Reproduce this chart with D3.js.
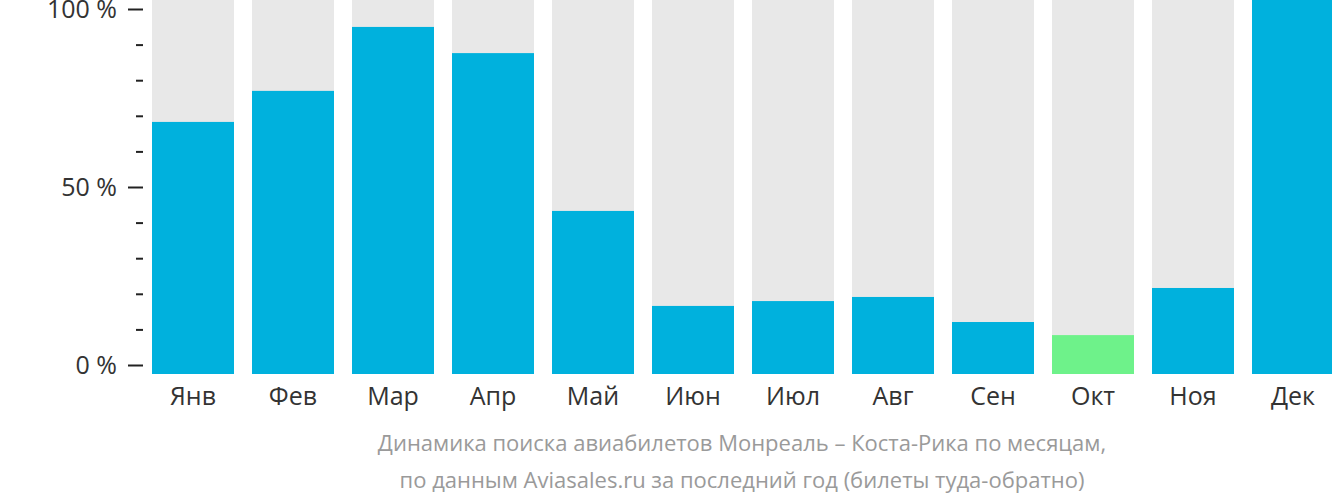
<!DOCTYPE html>
<html>
<head>
<meta charset="utf-8">
<script src="https://cdn.jsdelivr.net/npm/d3@7"></script>
<style>
  body { margin: 0; background: #fff; }
  svg { display: block; font-family: "Open Sans", sans-serif; }
</style>
</head>
<body>
<script>
// months and search share (%)
var months = ["Янв", "Фев", "Мар", "Апр", "Май", "Июн", "Июл", "Авг", "Сен", "Окт", "Ноя", "Дек"];
var values = [67.4, 75.7, 92.8, 85.8, 43.6, 18.2, 19.5, 20.6, 13.9, 10.4, 23.0, 100];
var lowMonth = "Окт";
var majorTicks = [0, 50, 100];
var minorTicks = [10, 20, 30, 40, 60, 70, 80, 90];
var subtitle = [
  "Динамика поиска авиабилетов Монреаль – Коста-Рика по месяцам,",
  "по данным Aviasales.ru за последний год (билеты туда-обратно)"
];

var W = 1332, H = 502;

var svg = d3.select("body").append("svg")
  .attr("width", W)
  .attr("height", H);

var x = d3.scaleBand()
  .domain(months)
  .range([152, 1334])
  .paddingInner(0.18)
  .paddingOuter(0);

// bars fill from the bottom edge to the top of the picture
var yBar = d3.scaleLinear().domain([0, 100]).range([374, 0]);
// axis sits a little inside the bars
var yAxis = d3.scaleLinear().domain([0, 100]).range([365, 9]);

// background bars
svg.append("g").selectAll("rect")
  .data(months)
  .enter().append("rect")
  .attr("x", function(d){ return x(d) })
  .attr("y", yBar(100))
  .attr("width", x.bandwidth())
  .attr("height", yBar(0) - yBar(100))
  .style("fill", "#e8e8e8");

// value bars
svg.append("g").selectAll("rect")
  .data(values)
  .enter().append("rect")
  .attr("x", function(d, i){ return x(months[i]) })
  .attr("y", function(d){ return yBar(d) })
  .attr("width", x.bandwidth())
  .attr("height", function(d){ return yBar(0) - yBar(d) })
  .style("fill", function(d, i){ return months[i] == lowMonth ? "#6ef28a" : "#00b1dd" });

// minor ticks
var minor = svg.append("g")
  .attr("transform", "translate(143,0)")
  .call(d3.axisLeft(yAxis).tickValues(minorTicks).tickSize(7).tickFormat(""));
minor.select(".domain").remove();

// major ticks with labels
var major = svg.append("g")
  .attr("transform", "translate(143,0)")
  .call(d3.axisLeft(yAxis).tickValues(majorTicks).tickSize(15).tickPadding(11)
    .tickFormat(function(d){ return d + " %" }));
major.select(".domain").remove();
major.selectAll("text")
  .style("font-size", "25px")
  .style("fill", "#333")
  .style("font-family", "'Open Sans', sans-serif");

svg.selectAll(".tick line")
  .style("stroke", "#222")
  .style("stroke-width", 2);

// month labels
var xAxis = svg.append("g")
  .attr("transform", "translate(0,374)")
  .call(d3.axisBottom(x).tickSize(0).tickPadding(13));
xAxis.select(".domain").remove();
xAxis.selectAll("text")
  .style("font-size", "25px")
  .style("fill", "#333")
  .style("font-family", "'Open Sans', sans-serif");

// caption
svg.append("g").selectAll("text")
  .data(subtitle)
  .enter().append("text")
  .attr("x", 742)
  .attr("y", function(d, i){ return 451 + i * 37 })
  .attr("text-anchor", "middle")
  .style("font-size", "22px")
  .style("fill", "#9a9a9a")
  .text(function(d){ return d });
</script>
</body>
</html>
